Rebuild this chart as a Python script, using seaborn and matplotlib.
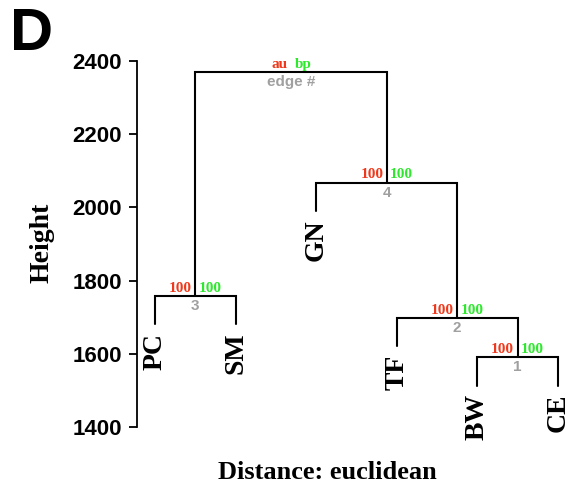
import matplotlib
matplotlib.use("Agg")
import matplotlib.pyplot as plt
import seaborn as sns
import pandas as pd

# ---- data ----
leaves = ["PC", "SM", "GN", "TF", "BW", "CE"]
# R-style merge matrix: negative = leaf (1-based), positive = earlier merge (1-based)
merge_left = [-5, -4, -1, -3, 3]
merge_right = [-6, 1, -2, 2, 4]
merge_height = [1591, 1698, 1758, 2067, 2370]
au_values = [100, 100, 100, 100]
bp_values = [100, 100, 100, 100]
edge_ids = [1, 2, 3, 4]
y_ticks = [1400, 1600, 1800, 2000, 2200, 2400]

hang = 0.1 * (max(merge_height) - min(merge_height))

RED = "#f0391c"
GREEN = "#2ee82e"
GRAY = "#a0a0a0"

sns.set_style("white")
plt.rcParams.update({"text.color": "black", "axes.labelcolor": "black",
                     "xtick.color": "black", "ytick.color": "black"})

# leaf positions (order of leaves as listed)
leaf_x = {i + 1: i + 1 for i in range(len(leaves))}
node_x = {}

def xpos(c):
    return leaf_x[-c] if c < 0 else node_x[c]

rows = []
seg = 0
leaf_bottom = {}
for k, (l, r, h) in enumerate(zip(merge_left, merge_right, merge_height), start=1):
    xl, xr = xpos(l), xpos(r)
    yl = h - hang if l < 0 else merge_height[l - 1]
    yr = h - hang if r < 0 else merge_height[r - 1]
    if l < 0:
        leaf_bottom[-l] = yl
    if r < 0:
        leaf_bottom[-r] = yr
    for x, y in [(xl, yl), (xl, h), (xr, h), (xr, yr)]:
        rows.append({"seg": seg, "x": x, "y": y})
    seg += 1
    node_x[k] = (xl + xr) / 2

df = pd.DataFrame(rows)

W, H = 572, 486
fig = plt.figure(figsize=(W / 100, H / 100), dpi=100)
xl0, xr0 = 0.7767, 6.2
px_per = 80.6
ax = fig.add_axes([137 / W, (H - 427) / H, (xr0 - xl0) * px_per / W, 366 / H])

sns.lineplot(data=df, x="x", y="y", units="seg", estimator=None, sort=False,
             color="black", linewidth=1.5, ax=ax, legend=False)
for line in ax.lines:
    line.set_clip_on(False)
    line.set_solid_joinstyle("miter")

ax.set_xlim(xl0, xr0)
ax.set_ylim(1400, 2400)
ax.set_yticks(y_ticks)
ax.set_yticklabels([str(t) for t in y_ticks], fontfamily="Liberation Sans",
                   fontweight="bold", fontsize=16, color="black")
ax.tick_params(axis="y", length=6, width=1.3, pad=5, color="black", left=True)
ax.set_xticks([])
for s in ["top", "right", "bottom"]:
    ax.spines[s].set_visible(False)
ax.spines["left"].set_bounds(1400, 2400)
ax.spines["left"].set_linewidth(1.3)
ax.spines["left"].set_color("black")
ax.set_xlabel("")
ax.set_ylabel("")

# leaf labels
for i, name in enumerate(leaves, start=1):
    ax.annotate(name, (leaf_x[i], leaf_bottom[i]), xytext=(0, -6),
                textcoords="offset points", rotation=90, ha="center", va="top",
                fontfamily="Liberation Serif", fontweight="bold", fontsize=20,
                color="black", annotation_clip=False)

# au / bp / edge annotations
for k in range(1, len(merge_height) + 1):
    x, h = node_x[k], merge_height[k - 1]
    if k <= len(au_values):
        a, b, e = str(au_values[k - 1]), str(bp_values[k - 1]), str(edge_ids[k - 1])
    else:
        a, b, e = "au", "bp", "edge #"
    ax.annotate(a, (x, h), xytext=(-2.5, 1), textcoords="offset points",
                ha="right", va="bottom", color=RED, fontfamily="Liberation Serif",
                fontweight="bold", fontsize=11, annotation_clip=False)
    ax.annotate(b, (x, h), xytext=(2.5, 1), textcoords="offset points",
                ha="left", va="bottom", color=GREEN, fontfamily="Liberation Serif",
                fontweight="bold", fontsize=11, annotation_clip=False)
    ax.annotate(e, (x, h), xytext=(0, -2), textcoords="offset points",
                ha="center", va="top", color=GRAY, fontfamily="Liberation Sans",
                fontweight="bold", fontsize=11, annotation_clip=False)

fig.text(42 / W, 1 - 243 / H, "Height", rotation=90, ha="center", va="center",
         fontfamily="Liberation Serif", fontweight="bold", fontsize=20, color="black")
fig.text(327 / W, 1 - 472 / H, "Distance: euclidean", ha="center", va="center",
         fontfamily="Liberation Serif", fontweight="bold", fontsize=19, color="black")
fig.text(10 / W, 1 - 34 / H, "D", ha="left", va="center",
         fontfamily="Liberation Sans", fontweight="bold", fontsize=43, color="black")

fig.savefig("out.png", dpi=100, facecolor="white")
